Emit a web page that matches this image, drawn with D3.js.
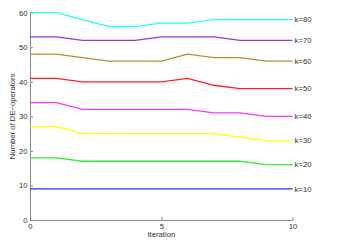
<!DOCTYPE html>
<html>
<head>
<meta charset="utf-8">
<script src="https://cdn.jsdelivr.net/npm/d3@7"></script>
<style>
  body { margin: 0; background: #fff; }
  text { font-family: "Liberation Sans", Arial, sans-serif; fill: #333; }
</style>
</head>
<body>
<div id="chart"></div>
<script>
// iterations 0..10
const iterations = [0, 1, 2, 3, 4, 5, 6, 7, 8, 9, 10];
const seriesNames = ["k=10", "k=20", "k=30", "k=40", "k=50", "k=60", "k=70", "k=80"];
const k10 = [9, 9, 9, 9, 9, 9, 9, 9, 9, 9, 9];
const k20 = [18, 18, 17, 17, 17, 17, 17, 17, 17, 16, 16];
const k30 = [27, 27, 25, 25, 25, 25, 25, 25, 24, 23, 23];
const k40 = [34, 34, 32, 32, 32, 32, 32, 31, 31, 30, 30];
const k50 = [41, 41, 40, 40, 40, 40, 41, 39, 38, 38, 38];
const k60 = [48, 48, 47, 46, 46, 46, 48, 47, 47, 46, 46];
const k70 = [53, 53, 52, 52, 52, 53, 53, 53, 52, 52, 52];
const k80 = [60, 60, 58, 56, 56, 57, 57, 58, 58, 58, 58];
const seriesValues = [k10, k20, k30, k40, k50, k60, k70, k80];
const colors = ["#2a2aff", "#33ee33", "#ffff00", "#ff33ff", "#ff2222", "#c08a2c", "#9933ee", "#22ffff"];
const xTicks = [0, 5, 10];
const yTicks = [0, 10, 20, 30, 40, 50, 60];

let margin = {top: 12.7, right: 61.4, bottom: 23, left: 30};
let width = 354 - margin.left - margin.right;
let height = 243 - margin.top - margin.bottom;
let fontSize = "7.7px";

let svg = d3.select("#chart")
    .append("svg")
    .attr("width", 354)
    .attr("height", 243)
    .append("g")
    .attr("transform", "translate(" + margin.left + "," + margin.top + ")");

let x = d3.scaleLinear().domain([0, 10]).range([0, width]);
let y = d3.scaleLinear().domain([0, 60]).range([height, 0]);

// axes, ticks pointing inward
let xAxis = svg.append("g")
    .attr("transform", "translate(0," + height + ")")
    .call(d3.axisBottom(x).tickValues(xTicks).tickSizeInner(-3).tickSizeOuter(0).tickPadding(3.5));
let yAxis = svg.append("g")
    .call(d3.axisLeft(y).tickValues(yTicks).tickSizeInner(-3).tickSizeOuter(0).tickPadding(2.5));

[xAxis, yAxis].forEach(function(a) {
    a.selectAll("path, line").attr("stroke", "#8a8a8a");
    a.selectAll("text").style("font-size", fontSize).style("fill", "#333");
});

let line = d3.line()
    .x(function(d, i) { return x(iterations[i]); })
    .y(function(d) { return y(d); });

svg.selectAll(".series")
    .data(seriesValues)
    .enter().append("path")
    .attr("class", "series")
    .attr("d", line)
    .attr("fill", "none")
    .attr("stroke", function(d, i) { return colors[i]; })
    .attr("stroke-width", 1.3);

svg.selectAll(".series-label")
    .data(seriesValues)
    .enter().append("text")
    .attr("class", "series-label")
    .attr("x", x(10) + 2)
    .attr("y", function(d) { return y(d[d.length - 1]); })
    .attr("dy", "0.35em")
    .style("font-size", fontSize)
    .text(function(d, i) { return seriesNames[i]; });

svg.append("text")
    .attr("x", x(5))
    .attr("y", height + 17.5)
    .attr("text-anchor", "middle")
    .style("font-size", fontSize)
    .text("Iteration");

svg.append("text")
    .attr("transform", "translate(" + (-15) + "," + y(30) + ") rotate(-90)")
    .attr("text-anchor", "middle")
    .style("font-size", fontSize)
    .text("Number of DE\u2212operators");
</script>
</body>
</html>
